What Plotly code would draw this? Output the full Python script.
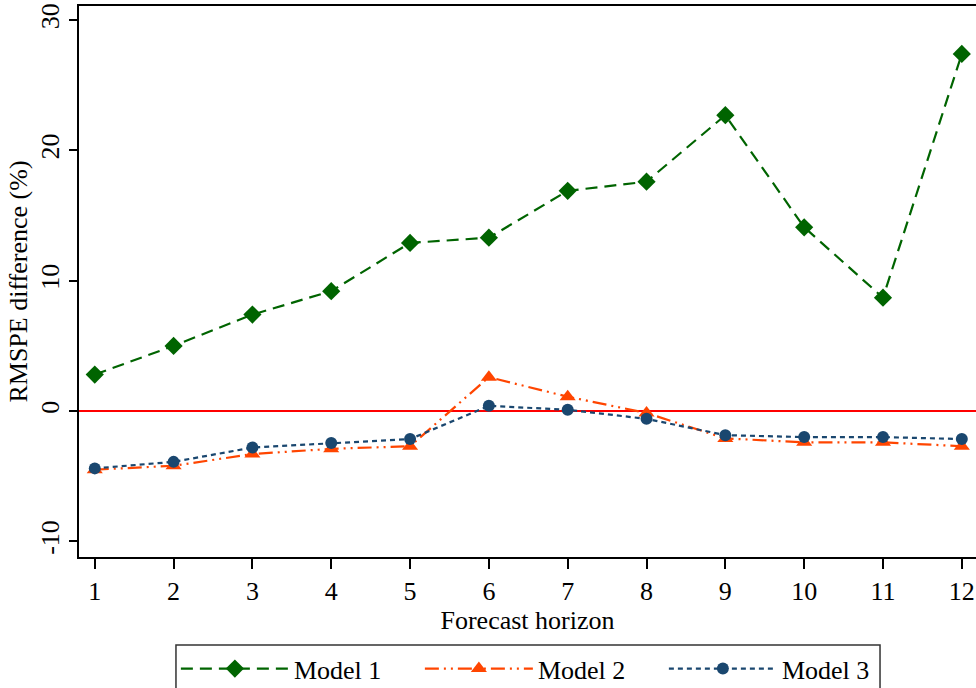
import plotly.graph_objects as go

horizons = list(range(1, 13))
model1 = [2.8, 5.0, 7.4, 9.2, 12.9, 13.3, 16.9, 17.6, 22.7, 14.1, 8.7, 27.4]
model2 = [-4.5, -4.2, -3.3, -2.9, -2.7, 2.6, 1.1, -0.15, -2.1, -2.4, -2.4, -2.7]
model3 = [-4.4, -3.9, -2.8, -2.45, -2.15, 0.4, 0.1, -0.6, -1.85, -2.0, -2.0, -2.15]
y_ticks = [-10, 0, 10, 20, 30]

FONT = "Liberation Serif"
FS = 26

fig = go.Figure()
fig.add_trace(go.Scatter(
    x=horizons, y=model1, name="Model 1", mode="lines+markers",
    line=dict(color="#006400", width=2.2, dash="12px,7px"),
    marker=dict(symbol="diamond", size=14, color="#006400"),
))
fig.add_trace(go.Scatter(
    x=horizons, y=model2, name="Model 2", mode="lines+markers",
    line=dict(color="#FF4500", width=2.2, dash="14px,5px,2px,5px,2px,5px"),
    marker=dict(symbol="triangle-up", size=14, color="#FF4500"),
))
fig.add_trace(go.Scatter(
    x=horizons, y=model3, name="Model 3", mode="lines+markers",
    line=dict(color="#1A476F", width=2.2, dash="5px,4px"),
    marker=dict(symbol="circle", size=12, color="#1A476F"),
))

fig.add_shape(type="line", xref="paper", yref="y", x0=0, x1=1, y0=0, y1=0,
              line=dict(color="#FF0000", width=2), layer="below")

# legend frame
fig.add_shape(type="rect", xref="paper", yref="paper",
              x0=0.1081, x1=0.893, y0=-0.1597, y1=-0.30,
              line=dict(color="#333333", width=1.5), fillcolor="rgba(0,0,0,0)")

fig.update_layout(
    width=976, height=688,
    margin=dict(l=79, r=0, t=6, b=131, autoexpand=False),
    paper_bgcolor="white", plot_bgcolor="white",
    font=dict(family=FONT, size=FS, color="black"),
    showlegend=True,
    legend=dict(
        orientation="h", x=0.108, xanchor="left", y=-0.160, yanchor="top",
        borderwidth=0, bgcolor="rgba(0,0,0,0)",
        font=dict(family=FONT, size=FS, color="black"),
        itemwidth=108, entrywidth=121, traceorder="normal",
    ),
    xaxis=dict(
        range=[0.8, 12.18], tickvals=horizons, ticktext=[str(h) for h in horizons],
        showgrid=False, zeroline=False, showline=True, linecolor="black", linewidth=2,
        mirror=True, ticks="outside", ticklen=10, tickwidth=1.5, tickcolor="black",
        automargin=False,
        title=dict(text="Forecast horizon", standoff=0, font=dict(family=FONT, size=FS)),
        tickfont=dict(family=FONT, size=FS),
    ),
    yaxis=dict(
        range=[-11.2, 31.08], tickvals=y_ticks, ticktext=[str(v) for v in y_ticks],
        showgrid=False, zeroline=False, showline=True, linecolor="black", linewidth=2,
        ticks="outside", ticklen=8, tickwidth=1.5, tickcolor="black", tickangle=-90,
        automargin=False,
        title=dict(text="RMSPE difference (%)", standoff=0, font=dict(family=FONT, size=FS)),
        tickfont=dict(family=FONT, size=FS),
    ),
)

fig.write_html("out.html", post_script="document.body.style.margin='0';",
               config={"displayModeBar": False})
